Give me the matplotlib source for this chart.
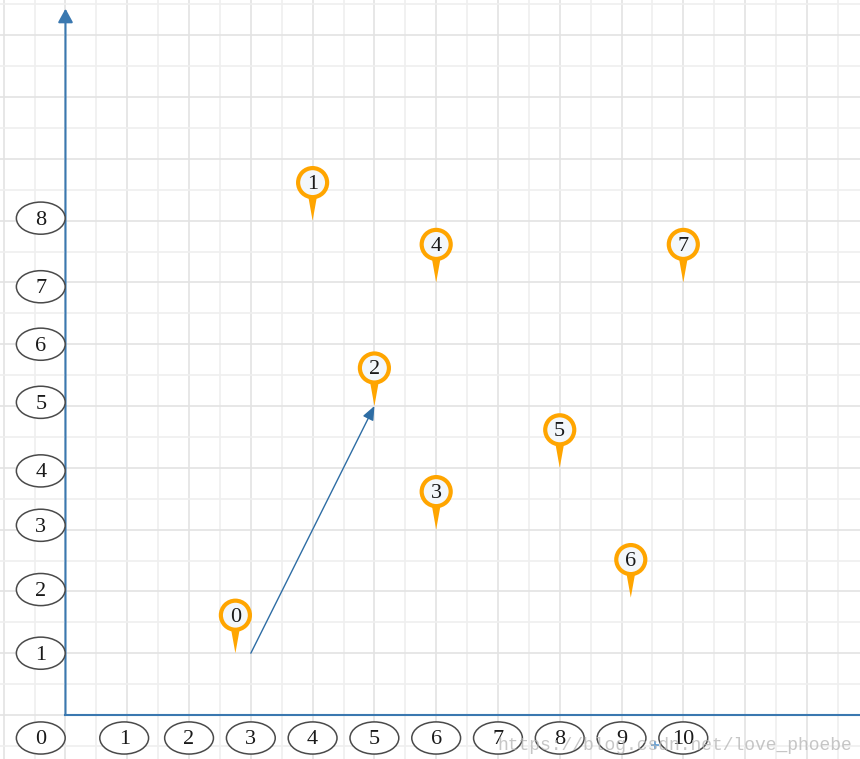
import matplotlib
matplotlib.use('Agg')
import matplotlib.pyplot as plt
import numpy as np
from matplotlib.patches import Circle, Ellipse, Polygon

# pins (tip position of each marker)
pin_labels = ['0', '1', '2', '3', '4', '5', '6', '7']
pin_x = [2.75, 4, 5, 6, 6, 8, 9.15, 10]
pin_y = [1, 8, 5, 3, 7, 4, 1.9, 7]

# the vector drawn from point 0 to point 2
vec_start = (3, 1)
vec_end = (5, 5)

# tick "bubbles" as drawn in the picture
x_tick_labels = ['0', '1', '2', '3', '4', '5', '6', '7', '8', '9', '10']
x_tick_pos = [-0.4, 0.95, 2, 3, 4, 5, 6, 7, 8, 9, 10]
y_tick_labels = ['1', '2', '3', '4', '5', '6', '7', '8']
y_tick_pos = [1.0, 2.03, 3.07, 3.95, 5.06, 6.0, 6.93, 8.04]

watermark = 'https://blog.csdn.net/love_phoebe'

axis_color = '#3a78b0'
pin_color = '#ffa500'
pin_fill = '#f3f7fb'
dy = -0.03  # digits sit a touch high with va='center'

fig = plt.figure(figsize=(8.6, 7.59), dpi=100)
ax = fig.add_axes([0, 0, 1, 1])
ax.set_xlim(-1.06, 12.86)
ax.set_ylim(-0.712, 11.57)

# grid paper background
ax.set_xticks(np.arange(-1, 13, 1))
ax.set_xticks(np.arange(-0.5, 13, 1), minor=True)
ax.set_yticks(np.arange(0, 12, 1))
ax.set_yticks(np.arange(-0.5, 12, 1), minor=True)
ax.grid(which='major', color='#e3e3e3', lw=1.2)
ax.grid(which='minor', color='#efefef', lw=1.2)
ax.tick_params(which='both', length=0, labelbottom=False, labelleft=False)
for s in ax.spines.values():
    s.set_visible(False)
ax.set_axisbelow(True)

# axes lines
ax.plot([0, 13], [0, 0], color=axis_color, lw=1.5, zorder=2)
ax.annotate('', xy=(0, 11.43), xytext=(0, 0),
            arrowprops=dict(arrowstyle='-|>,head_length=0.55,head_width=0.3',
                            color=axis_color, lw=1.5, mutation_scale=15,
                            shrinkA=0, shrinkB=0), zorder=2)

# tick bubbles
for lab, xp in zip(x_tick_labels, x_tick_pos):
    ax.add_patch(Ellipse((xp, -0.372), 0.79, 0.52, facecolor='white',
                         edgecolor='#4a4a4a', lw=1.1, zorder=3))
    ax.text(xp, -0.372 + dy, lab, ha='center', va='center', fontsize=16,
            family='Liberation Serif', color='#1a1a1a', zorder=4)
for lab, yp in zip(y_tick_labels, y_tick_pos):
    ax.add_patch(Ellipse((-0.4, yp), 0.79, 0.52, facecolor='white',
                         edgecolor='#4a4a4a', lw=1.1, zorder=3))
    ax.text(-0.4, yp + dy, lab, ha='center', va='center', fontsize=16,
            family='Liberation Serif', color='#1a1a1a', zorder=4)

# vector 0 -> 2
ax.annotate('', xy=vec_end, xytext=vec_start,
            arrowprops=dict(arrowstyle='-|>,head_length=0.6,head_width=0.25',
                            color='#2e6da4', lw=1, mutation_scale=14,
                            shrinkA=0, shrinkB=0), zorder=5)

# map pins
for lab, px, py in zip(pin_labels, pin_x, pin_y):
    yc = py + 0.615
    ax.add_patch(Polygon([(px - 0.075, yc - 0.2), (px + 0.075, yc - 0.2), (px, py)],
                         closed=True, facecolor=pin_color, edgecolor='none', zorder=6))
    ax.add_patch(Circle((px, yc), 0.235, facecolor=pin_fill, edgecolor=pin_color,
                        lw=3.0, zorder=7))
    ax.text(px, yc + dy, lab, ha='center', va='center', fontsize=16,
            family='Liberation Serif', color='#1a1a1a', zorder=8)

# small marker near the bottom and the watermark
ax.plot(9.54, -0.49, marker='+', color='#5b9bd5', ms=6, mew=1.2, zorder=9)
ax.text(6.99, -0.49, watermark, ha='left', va='center', fontsize=13,
        family='Liberation Mono', color='#b4b4b4', alpha=0.75, zorder=9)

fig.savefig('out.png', dpi=100)
plt.close(fig)
